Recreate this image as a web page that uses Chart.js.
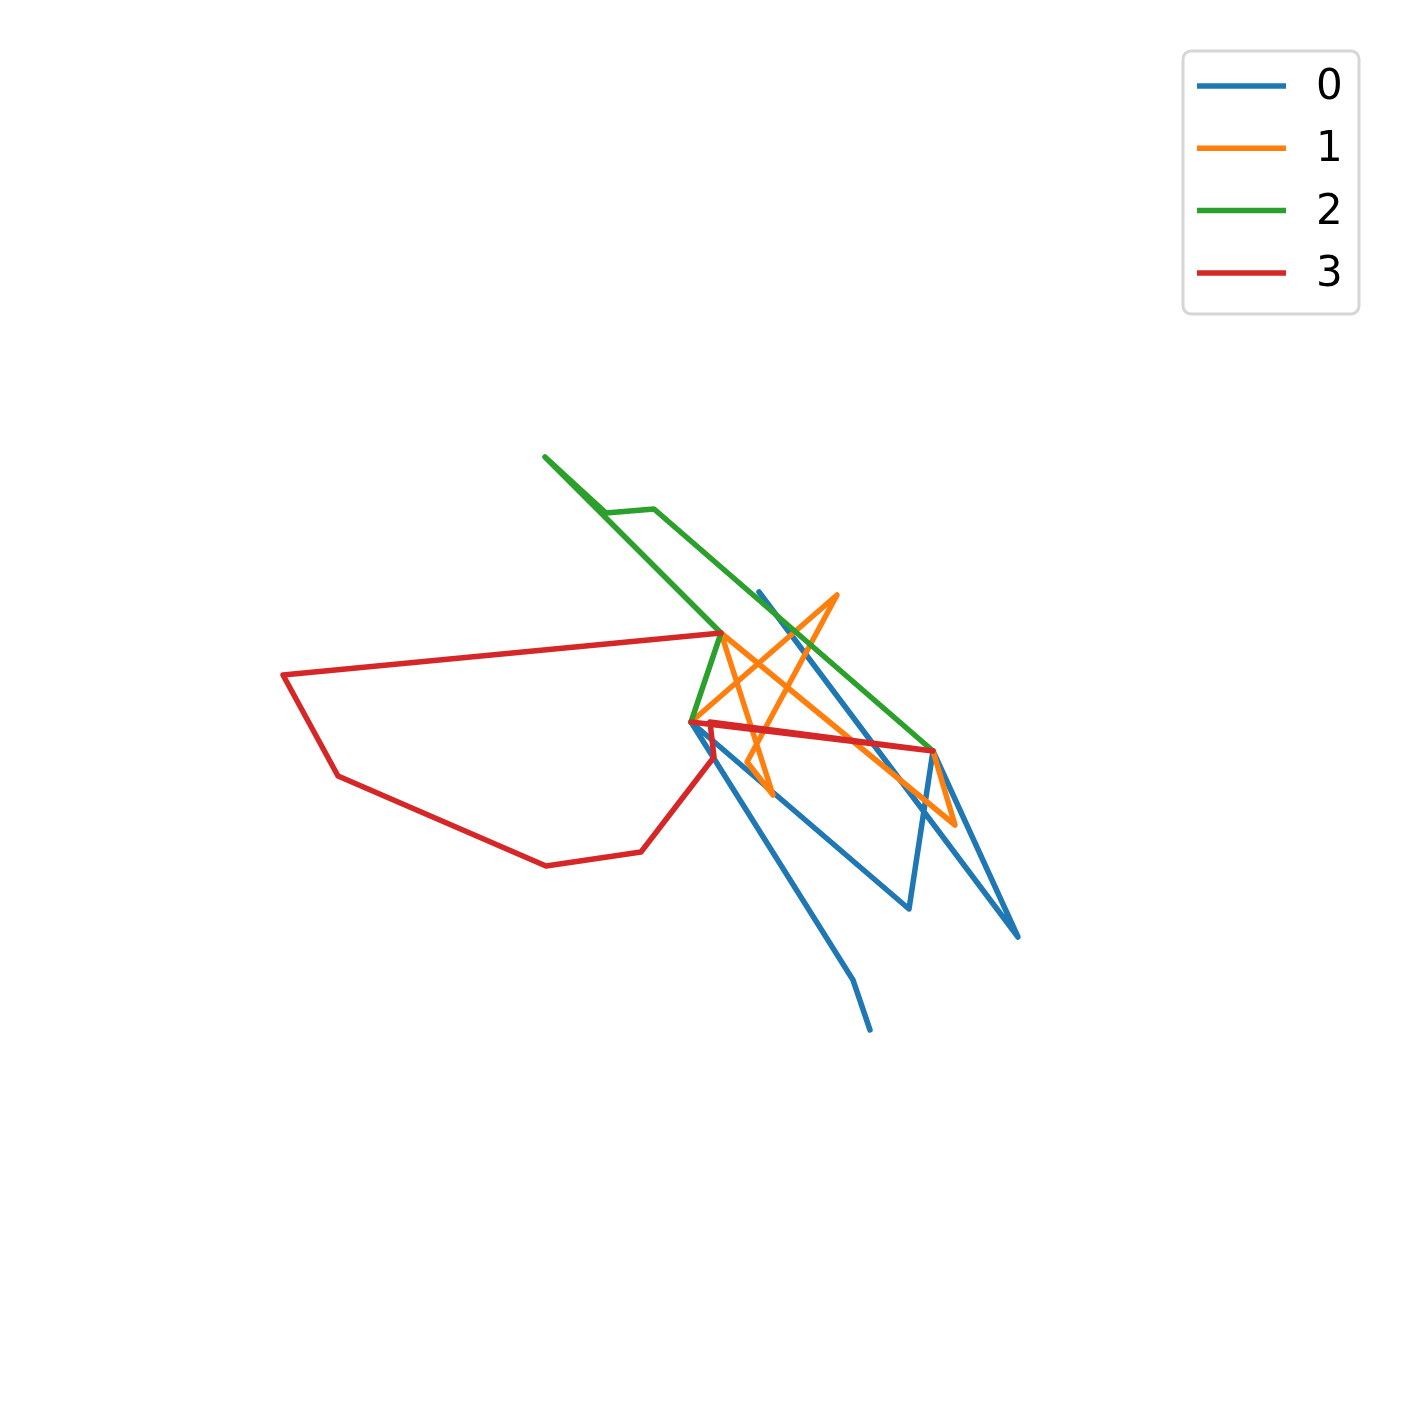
<!DOCTYPE html>
<html lang="en">
<head>
<meta charset="UTF-8" />
<title>Paths</title>
<script src="https://cdn.jsdelivr.net/npm/chart.js@4.4.1/dist/chart.umd.min.js"></script>
<style>
  body { margin: 0; background: #fff; }
  canvas { display: block; }
</style>
</head>
<body>
<canvas id="chart" width="1409" height="1410"></canvas>
<script>
// series values
const labels = ['0', '1', '2', '3'];
const colors = ['#1f77b4', '#ff7f0e', '#2ca02c', '#d62728'];

const x0 = [7.59, 10.18, 9.33, 9.09, 6.91, 8.53, 8.70];
const y0 = [8.18, 4.73, 6.59, 5.01, 6.88, 4.30, 3.80];

const x1 = [6.91, 8.37, 7.47, 7.73, 7.21, 9.55, 9.33];
const y1 = [6.88, 8.15, 6.48, 6.15, 7.77, 5.85, 6.59];

const x2 = [6.91, 7.21, 5.45, 6.06, 6.54, 9.33];
const y2 = [6.88, 7.77, 9.53, 8.97, 9.01, 6.59];

const x3 = [7.21, 2.83, 3.38, 5.46, 6.41, 7.14, 7.10, 9.33, 6.91];
const y3 = [7.77, 7.35, 6.34, 5.44, 5.58, 6.53, 6.88, 6.59, 6.88];

const xs = [x0, x1, x2, x3];
const ys = [y0, y1, y2, y3];

const datasets = labels.map((lab, i) => ({
    label: lab,
    data: xs[i].map((x, j) => ({ x: x, y: ys[i][j] })),
    showLine: true,
    borderColor: colors[i],
    backgroundColor: colors[i],
    borderWidth: 5.5,
    borderJoinStyle: 'round',
    borderCapStyle: 'round',
    pointRadius: 0,
    order: labels.length - i
}));

// legend box like the matplotlib one, top right
const boxLegend = {
    id: 'boxLegend',
    afterDraw(chart) {
        const ctx = chart.ctx;
        const left = 1183, top = 51, w = 176, h = 263, r = 8;
        ctx.save();
        ctx.beginPath();
        ctx.roundRect(left, top, w, h, r);
        ctx.fillStyle = 'rgba(255,255,255,0.8)';
        ctx.fill();
        ctx.lineWidth = 3;
        ctx.strokeStyle = '#d6d6d6';
        ctx.stroke();

        ctx.font = '42px "DejaVu Sans"';
        ctx.textBaseline = 'middle';
        chart.data.datasets.forEach((ds, i) => {
            const y = 86 + i * 62.3;
            ctx.beginPath();
            ctx.moveTo(1197, y);
            ctx.lineTo(1286, y);
            ctx.lineWidth = 5.5;
            ctx.strokeStyle = ds.borderColor;
            ctx.stroke();
            ctx.fillStyle = '#000';
            ctx.fillText(ds.label, 1316, y + 2);
        });
        ctx.restore();
    }
};

new Chart(document.getElementById('chart').getContext('2d'), {
    type: 'scatter',
    data: { datasets: datasets },
    options: {
        responsive: false,
        animation: false,
        layout: { padding: 0 },
        scales: {
            x: { type: 'linear', min: 0, max: 14.09, display: false },
            y: { type: 'linear', min: 0, max: 14.10, display: false }
        },
        plugins: {
            legend: { display: false },
            tooltip: { enabled: false }
        }
    },
    plugins: [boxLegend]
});
</script>
</body>
</html>
